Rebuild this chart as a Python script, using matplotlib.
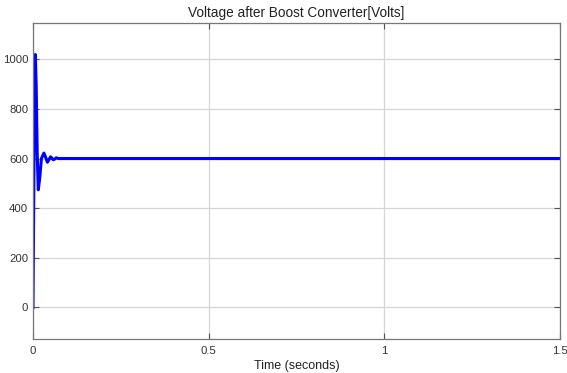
import matplotlib
matplotlib.use("Agg")
import matplotlib.pyplot as plt

# Data (time in seconds, voltage in volts)
time_s = [0.0, 0.002, 0.0045, 0.0066, 0.009, 0.012, 0.015, 0.019, 0.024, 0.031, 0.036, 0.041, 0.046, 0.050, 0.054, 0.058, 0.062, 0.066, 0.072, 0.08, 0.3, 0.6, 0.9, 1.2, 1.5]
voltage = [0, 400, 900, 1019, 900, 620, 474, 520, 600, 622, 605, 585, 597, 607, 601, 595, 598, 603, 600, 600, 600, 600, 600, 600, 600]

x_ticks = [0, 0.5, 1, 1.5]
x_tick_labels = ["0", "0.5", "1", "1.5"]
y_ticks = [0, 200, 400, 600, 800, 1000]

plt.rcParams['font.family'] = ['Liberation Sans', 'DejaVu Sans']

fig = plt.figure(figsize=(5.67, 3.73), dpi=100)
ax = fig.add_axes([33/567, 1-339/373, (560-33)/567, (339-23)/373])

ax.plot(time_s, voltage, color='#0000ff', linewidth=2.2, solid_joinstyle='round')

ax.set_xlim(0, 1.5)
ax.set_ylim(-127, 1146)
ax.set_xticks(x_ticks)
ax.set_xticklabels(x_tick_labels)
ax.set_yticks(y_ticks)

ax.grid(True, color='#d6d6d6', linewidth=0.9)
ax.set_axisbelow(True)
ax.tick_params(direction='in', top=True, right=True, length=4, width=0.8,
               colors='#555555', labelcolor='#333333', labelsize=8.2)
ax.tick_params(axis='x', pad=5)
for s in ax.spines.values():
    s.set_color('#777777')
    s.set_linewidth(0.9)

ax.set_title("Voltage after Boost Converter[Volts]", fontsize=9.8, color='#222222', pad=4)
ax.set_xlabel("Time (seconds)", fontsize=9, color='#222222', labelpad=3)

fig.savefig("out.png", dpi=100)
